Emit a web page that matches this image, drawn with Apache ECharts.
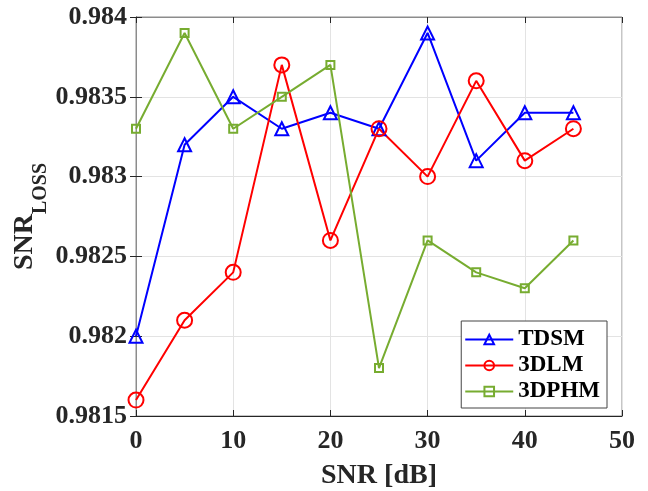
<!DOCTYPE html>
<html>
<head>
<meta charset="utf-8">
<script src="https://cdn.jsdelivr.net/npm/echarts@6/dist/echarts.min.js"></script>
<style>
  html, body { margin: 0; padding: 0; background: #fff; }
  #chart { width: 648px; height: 491px; }
</style>
</head>
<body>
<div id="chart"></div>
<script>
// SNR sweep (dB)
const snr = [0, 5, 10, 15, 20, 25, 30, 35, 40, 45];

// SNR loss per method
const tdsm  = [0.9820, 0.9832, 0.9835, 0.9833, 0.9834, 0.9833, 0.9839, 0.9831, 0.9834, 0.9834];
const dlm3  = [0.9816, 0.9821, 0.9824, 0.9837, 0.9826, 0.9833, 0.9830, 0.9836, 0.9831, 0.9833];
const dphm3 = [0.9833, 0.9839, 0.9833, 0.9835, 0.9837, 0.9818, 0.9826, 0.9824, 0.9823, 0.9826];

const seriesNames = ['TDSM', '3DLM', '3DPHM'];

const FONT = '"Liberation Serif", "Times New Roman", serif';

const pairs = (ys) => snr.map((x, i) => [x, ys[i]]);

function lineSeries(name, data, color, symbol, size) {
  return {
    name: name,
    type: 'line',
    data: pairs(data),
    symbol: symbol,
    symbolSize: size,
    showSymbol: true,
    lineStyle: { color: color, width: 2 },
    itemStyle: { color: 'rgba(255,255,255,0)', borderColor: color, borderWidth: 2 },
    emphasis: { disabled: true },
    z: 3
  };
}

const chart = echarts.init(document.getElementById('chart'), null, { renderer: 'canvas' });

chart.setOption({
  animation: false,
  backgroundColor: '#fff',
  grid: {
    left: 136, right: 26, top: 17, bottom: 75,
    containLabel: false,
    outerBoundsMode: 'none',
    show: true, borderColor: '#8c8c8c', borderWidth: 1
  },
  legend: {
    data: seriesNames,
    orient: 'vertical',
    right: 41, top: 321,
    itemWidth: 48, itemHeight: 12, itemGap: 3,
    padding: [7, 7, 5, 3],
    borderColor: '#444', borderWidth: 1,
    backgroundColor: '#fff',
    textStyle: { fontFamily: FONT, fontWeight: 'bold', fontSize: 23, color: '#000' }
  },
  xAxis: [{
    type: 'value',
    min: 0, max: 50, interval: 10,
    name: 'SNR [dB]',
    nameLocation: 'middle', nameGap: 46,
    nameMoveOverlap: false,
    nameTextStyle: { fontFamily: FONT, fontWeight: 'bold', fontSize: 28, color: '#262626' },
    axisLine: { show: true, lineStyle: { color: '#262626', width: 1 } },
    axisTick: { show: true, inside: true, length: 6, lineStyle: { color: '#262626' } },
    axisLabel: { fontFamily: FONT, fontWeight: 'bold', fontSize: 26, color: '#262626', margin: 12 },
    splitLine: { show: true, lineStyle: { color: '#e3e3e3', width: 1 } }
  }, {
    type: 'value', position: 'top',
    min: 0, max: 50, interval: 10,
    axisLine: { show: true, lineStyle: { color: '#8c8c8c' } },
    axisTick: { show: true, inside: true, length: 6, lineStyle: { color: '#262626' } },
    axisLabel: { show: false },
    splitLine: { show: false }
  }],
  yAxis: [{
    type: 'value',
    min: 0.9815, max: 0.984, interval: 0.0005,
    name: '{a|SNR}{b|LOSS}',
    nameLocation: 'middle', nameGap: 95,
    nameMoveOverlap: false,
    nameTextStyle: {
      rich: {
        a: { fontFamily: FONT, fontWeight: 'bold', fontSize: 28, color: '#262626', verticalAlign: 'top', lineHeight: 30 },
        b: { fontFamily: FONT, fontWeight: 'bold', fontSize: 20, color: '#262626', verticalAlign: 'top', lineHeight: 22, padding: [20, 0, 0, 0] }
      }
    },
    axisLine: { show: true, lineStyle: { color: '#262626', width: 1 } },
    axisTick: { show: true, inside: true, length: 6, lineStyle: { color: '#262626' } },
    axisLabel: {
      fontFamily: FONT, fontWeight: 'bold', fontSize: 26, color: '#262626', margin: 9,
      formatter: (v) => String(parseFloat(v.toFixed(4)))
    },
    splitLine: { show: true, lineStyle: { color: '#e3e3e3', width: 1 } }
  }, {
    type: 'value', position: 'right',
    min: 0.9815, max: 0.984, interval: 0.0005,
    axisLine: { show: true, lineStyle: { color: '#8c8c8c' } },
    axisTick: { show: true, inside: true, length: 6, lineStyle: { color: '#262626' } },
    axisLabel: { show: false },
    splitLine: { show: false }
  }],
  series: [
    lineSeries(seriesNames[0], tdsm, '#0000ff', 'triangle', 13),
    lineSeries(seriesNames[1], dlm3, '#ff0000', 'circle', 15),
    lineSeries(seriesNames[2], dphm3, '#77ac30', 'rect', 8)
  ]
});
</script>
</body>
</html>
